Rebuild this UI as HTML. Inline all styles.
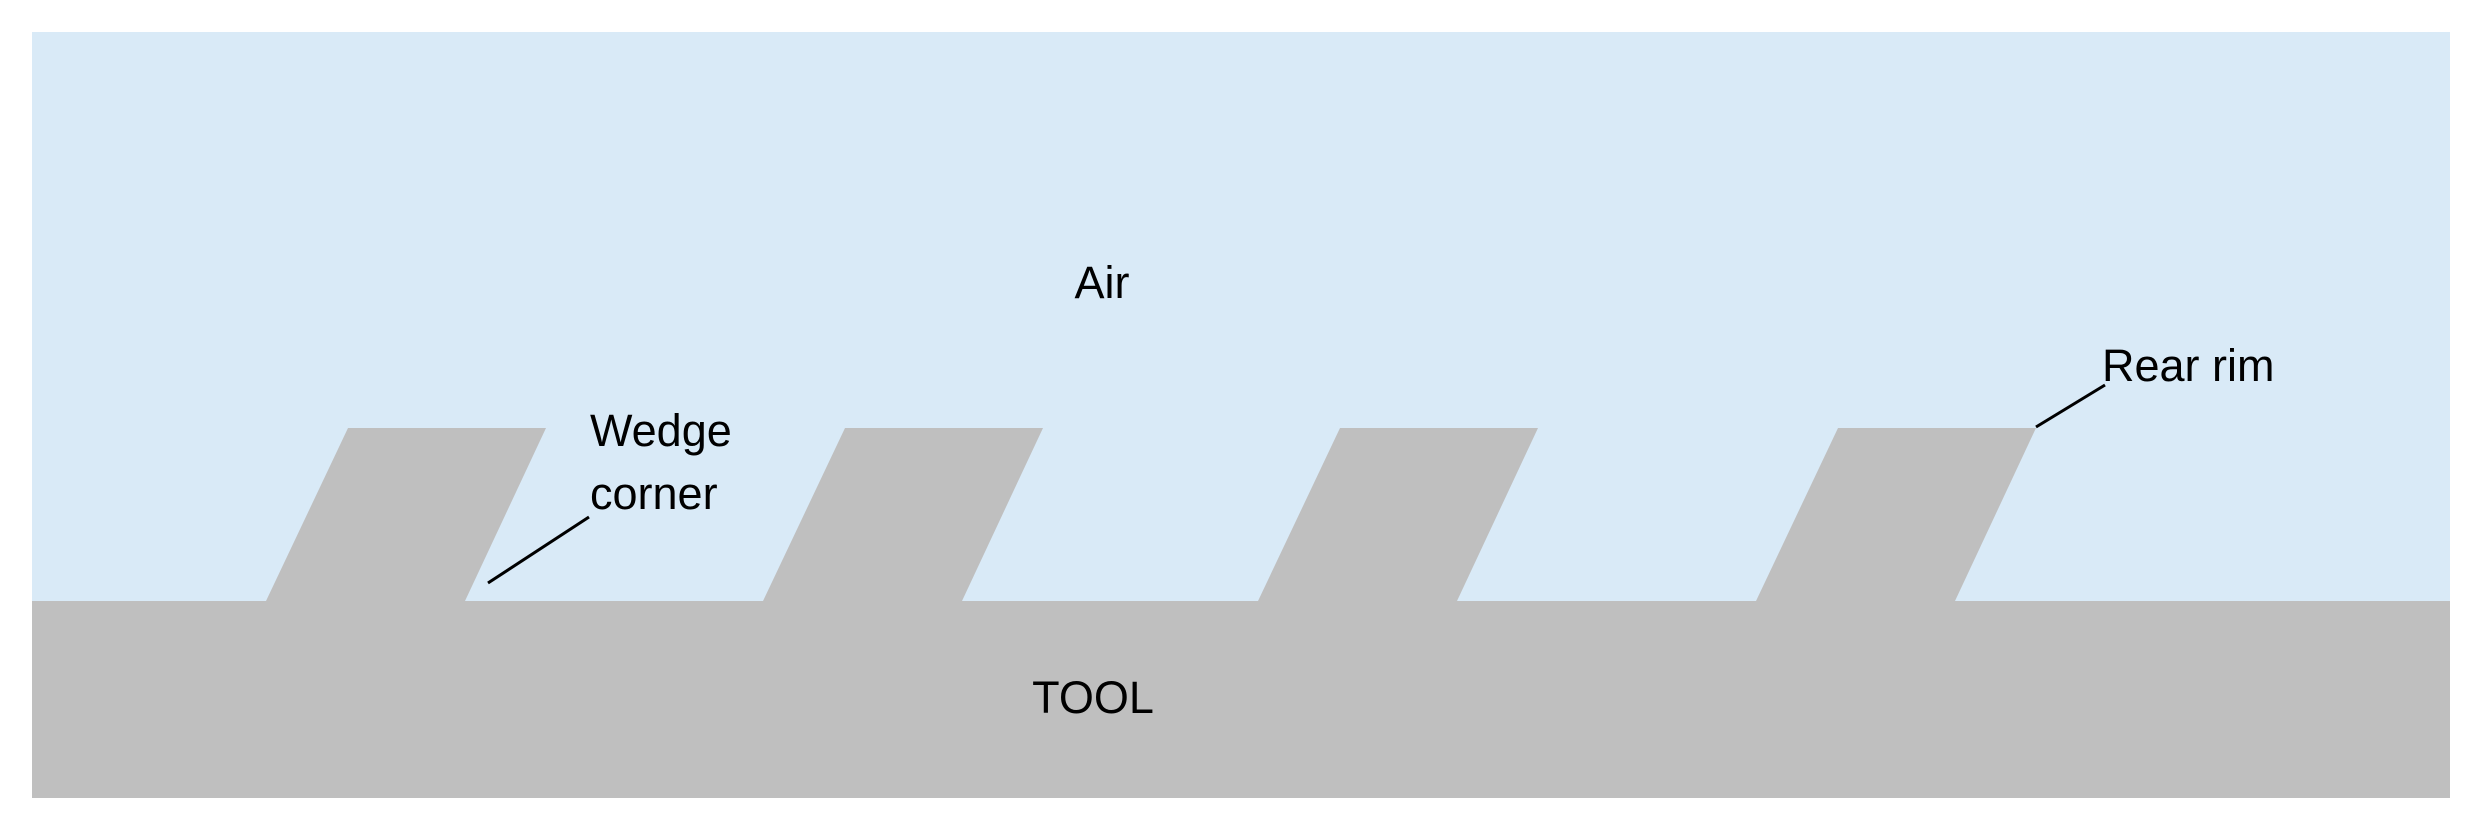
<!DOCTYPE html>
<html><head><meta charset="utf-8"><style>
html,body{margin:0;padding:0;background:#fff;}
svg{display:block;}
text{font-family:"Liberation Sans",sans-serif;font-size:45px;fill:#000;}
</style></head><body>
<svg width="2482" height="827" viewBox="0 0 2482 827">
<rect x="32" y="32" width="2418" height="766" fill="#d9eaf7"/>
<rect x="32" y="601" width="2418" height="197" fill="#bfbfbf"/>
<polygon points="266,601 348,428 546,428 465,601" fill="#bfbfbf"/>
<polygon points="763,601 845,428 1043,428 962,601" fill="#bfbfbf"/>
<polygon points="1258,601 1340,428 1538,428 1457,601" fill="#bfbfbf"/>
<polygon points="1756,601 1838,428 2036,428 1955,601" fill="#bfbfbf"/>
<line x1="488" y1="583" x2="589" y2="517" stroke="#000" stroke-width="3"/>
<line x1="2036" y1="427" x2="2105" y2="385" stroke="#000" stroke-width="3"/>
<text x="1102" y="298" text-anchor="middle">Air</text>
<text x="590" y="446">Wedge</text>
<text x="590" y="509">corner</text>
<text x="2102" y="381">Rear rim</text>
<text x="1093" y="713" text-anchor="middle">TOOL</text>
</svg>
</body></html>
